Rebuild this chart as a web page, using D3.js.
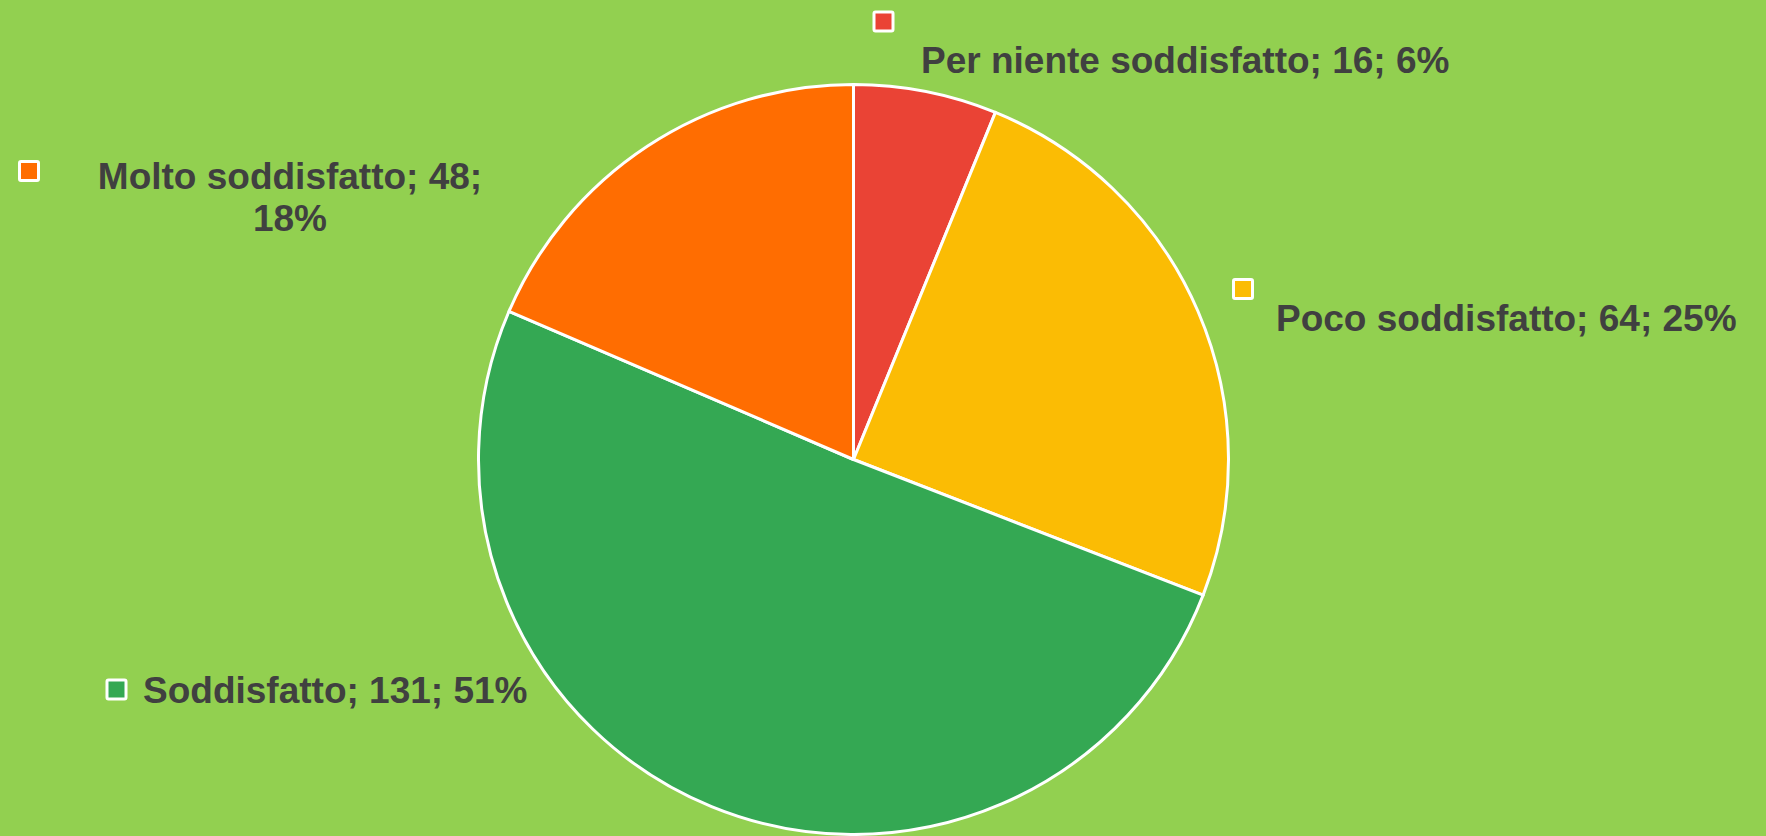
<!DOCTYPE html>
<html>
<head>
<meta charset="utf-8">
<script src="https://cdn.jsdelivr.net/npm/d3@7"></script>
<style>
  html, body { margin: 0; padding: 0; background: #92D050; overflow: hidden; }
  svg { display: block; }
</style>
</head>
<body>
<div id="chart"></div>
<script>
(function() {

    // data
    var categories = ["Per niente soddisfatto", "Poco soddisfatto", "Soddisfatto", "Molto soddisfatto"];
    var values = [16, 64, 131, 48];
    var percents = ["6%", "25%", "51%", "18%"];
    var colors = ["#EA4335", "#FBBC04", "#34A853", "#FF6D01"];

    var width = 1766, height = 836;
    var cx = 853.5, cy = 459.5, radius = 375;

    // label layout: key square centre, text anchor, baseline, lines
    var labelLayout = [
        { kx: 883.5, ky: 21.5, tx: 921, ty: 73, anchor: "start", lines: 1 },
        { kx: 1243, ky: 289, tx: 1276, ty: 331, anchor: "start", lines: 1 },
        { kx: 116.5, ky: 689.5, tx: 143, ty: 703, anchor: "start", lines: 1 },
        { kx: 29, ky: 171, tx: 290, ty: 189, anchor: "middle", lines: 2 }
    ];

    var svg = d3.select("#chart").append("svg")
        .attr("width", width)
        .attr("height", height);

    svg.append("rect")
        .attr("width", width)
        .attr("height", height)
        .attr("fill", "#92D050");

    var pie = d3.pie().sort(null).value(d => d);
    var arc = d3.arc().innerRadius(0).outerRadius(radius);

    var g = svg.append("g").attr("transform", "translate(" + cx + "," + cy + ")");

    g.selectAll("path")
        .data(pie(values))
        .enter().append("path")
        .attr("d", arc)
        .attr("fill", (d, i) => colors[i])
        .attr("stroke", "#fff")
        .attr("stroke-width", 3)
        .attr("stroke-linejoin", "round");

    var labels = svg.append("g")
        .attr("font-family", "'Liberation Sans', Arial, sans-serif")
        .attr("font-weight", "bold")
        .attr("font-size", "37px")
        .attr("fill", "#404040");

    categories.forEach(function(c, i) {
        var L = labelLayout[i];
        var ks = 19;
        labels.append("rect")
            .attr("x", L.kx - ks / 2)
            .attr("y", L.ky - ks / 2)
            .attr("width", ks)
            .attr("height", ks)
            .attr("rx", 1.5)
            .attr("fill", colors[i])
            .attr("stroke", "#fff")
            .attr("stroke-width", 3);

        var full = c + "; " + values[i] + "; " + percents[i];
        var t = labels.append("text")
            .attr("x", L.tx)
            .attr("y", L.ty)
            .attr("text-anchor", L.anchor);
        if (L.lines === 2) {
            t.append("tspan").attr("x", L.tx).text(c + "; " + values[i] + ";");
            t.append("tspan").attr("x", L.tx).attr("dy", 42).text(percents[i]);
        } else {
            t.text(full);
        }
    });

})()
</script>
</body>
</html>
